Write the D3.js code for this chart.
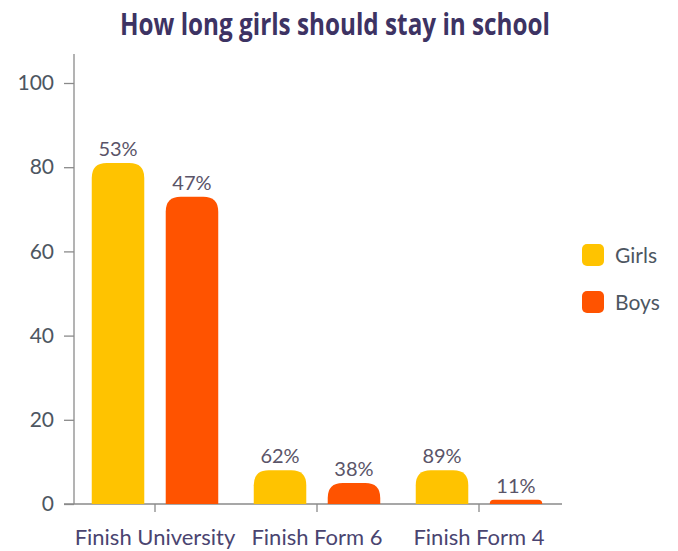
<!DOCTYPE html>
<html><head><meta charset="utf-8">
<script src="https://cdn.jsdelivr.net/npm/d3@7"></script>
<style>body{margin:0;background:#fff}svg{display:block}</style>
</head><body>
<svg id="c" width="678" height="551"></svg>
<script>
const categories = ["Finish University", "Finish Form 6", "Finish Form 4"];
const seriesNames = ["Girls", "Boys"];
const girls = [81, 8, 8];
const boys = [73, 5, 1];
const girlsLabels = ["53%", "62%", "89%"];
const boysLabels = ["47%", "38%", "11%"];
const yTicks = [0, 20, 40, 60, 80, 100];
const colors = ["#FFC300", "#FF5300"];
const title = "How long girls should stay in school";

(function () {
const svg = d3.select("#c");
const mLeft = 74, mRight = 560, mTop = 83, mBottom = 504;
const x = d3.scaleBand().domain(categories).range([mLeft, mRight]);
const xs = d3.scaleBand().domain(seriesNames).range([0, x.bandwidth()]).paddingInner(0.29).paddingOuter(0.24);
const y = d3.scaleLinear().domain([0, 100]).range([mBottom, mTop]);

svg.append("text").attr("x", 335).attr("y", 35).attr("text-anchor", "middle")
  .attr("font-family", "'Open Sans', sans-serif").attr("font-weight", 700)
  .attr("font-size", 30).attr("fill", "#3d3363")
  .attr("textLength", 430).attr("lengthAdjust", "spacingAndGlyphs").text(title);

// y axis
const ya = svg.append("g").attr("transform", `translate(${mLeft},0)`)
  .call(d3.axisLeft(y).tickValues(yTicks).tickSize(10).tickPadding(10));
ya.select(".domain").remove();
ya.selectAll("line").attr("stroke", "#8a8a8a").attr("stroke-width", 1.3);
ya.selectAll("text").attr("font-family", "Lato, sans-serif").attr("font-size", 21).attr("fill", "#4d5661");
svg.append("line").attr("x1", mLeft).attr("x2", mLeft).attr("y1", 54).attr("y2", mBottom)
  .attr("stroke", "#8a8a8a").attr("stroke-width", 1.3);

// x axis
const xa = svg.append("g").attr("transform", `translate(0,${mBottom})`)
  .call(d3.axisBottom(x).tickSize(8).tickPadding(17));
xa.select(".domain").remove();
xa.selectAll("line").attr("stroke", "#8a8a8a").attr("stroke-width", 1.3);
xa.selectAll("text").attr("font-family", "Lato, sans-serif").attr("font-size", 22).attr("fill", "#4a4470");
svg.append("line").attr("x1", 64).attr("x2", 562).attr("y1", mBottom).attr("y2", mBottom)
  .attr("stroke", "#8a8a8a").attr("stroke-width", 1.3);

function barPath(x0, w, yTop, yBot, r) {
  const h = yBot - yTop;
  r = Math.min(r, h, w / 2);
  return `M${x0},${yBot} L${x0},${yTop + r} Q${x0},${yTop} ${x0 + r},${yTop} L${x0 + w - r},${yTop} Q${x0 + w},${yTop} ${x0 + w},${yTop + r} L${x0 + w},${yBot} Z`;
}

const data = [];
categories.forEach((c, i) => {
  data.push({c, s: "Girls", v: girls[i], lab: girlsLabels[i], col: colors[0]});
  data.push({c, s: "Boys", v: boys[i], lab: boysLabels[i], col: colors[1]});
});

svg.append("g").selectAll("path").data(data).join("path")
  .attr("d", d => barPath(x(d.c) + xs(d.s), xs.bandwidth(), y(d.v), y(0), 15))
  .attr("fill", d => d.col);

svg.append("g").selectAll("text").data(data).join("text")
  .attr("x", d => x(d.c) + xs(d.s) + xs.bandwidth() / 2)
  .attr("y", d => y(d.v) - 7)
  .attr("text-anchor", "middle")
  .attr("font-family", "Lato, sans-serif").attr("font-size", 20).attr("fill", "#5a5468")
  .text(d => d.lab);

// legend
const lg = svg.append("g");
seriesNames.forEach((s, i) => {
  const cy = 255 + i * 47;
  lg.append("rect").attr("x", 582).attr("y", cy - 11).attr("width", 22).attr("height", 22)
    .attr("rx", 5).attr("fill", colors[i]);
  lg.append("text").attr("x", 615).attr("y", cy + 8)
    .attr("font-family", "Lato, sans-serif").attr("font-size", 21).attr("fill", "#4d5661").text(s);
});
})();
</script>
</body></html>
